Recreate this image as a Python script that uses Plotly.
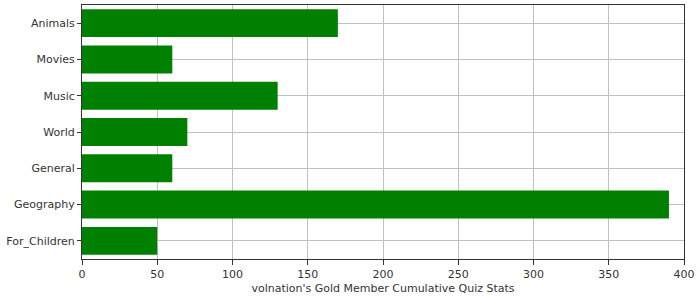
import plotly.graph_objects as go

categories = ["Animals", "Movies", "Music", "World", "General", "Geography", "For_Children"]
values = [170, 60, 130, 70, 60, 390, 50]
x_ticks = [0, 50, 100, 150, 200, 250, 300, 350, 400]
x_title = "volnation's Gold Member Cumulative Quiz Stats"

fig = go.Figure(go.Bar(
    x=values, y=categories, orientation="h",
    marker=dict(color="#008000", line=dict(width=0)),
))

fig.update_layout(
    width=700, height=300,
    margin=dict(l=82, r=16, t=5, b=41),
    paper_bgcolor="white", plot_bgcolor="white",
    bargap=0.23,
    font=dict(family="DejaVu Sans", size=11, color="#333333"),
    showlegend=False,
)
fig.update_xaxes(
    range=[0, 400], tickvals=x_ticks, ticktext=[str(v) for v in x_ticks],
    showgrid=True, gridcolor="#c0c0c0", gridwidth=1,
    showline=True, linecolor="#333333", linewidth=1, mirror=True,
    ticks="outside", ticklen=5, tickcolor="#333333",
    zeroline=False,
    title=dict(text=x_title, standoff=4, font=dict(size=11)),
)
fig.update_yaxes(
    categoryorder="array", categoryarray=categories, autorange="reversed",
    showgrid=True, gridcolor="#c0c0c0", gridwidth=1,
    showline=True, linecolor="#333333", linewidth=1, mirror=True,
    ticks="outside", ticklen=4, tickcolor="#333333",
)

fig.write_html("out.html")
